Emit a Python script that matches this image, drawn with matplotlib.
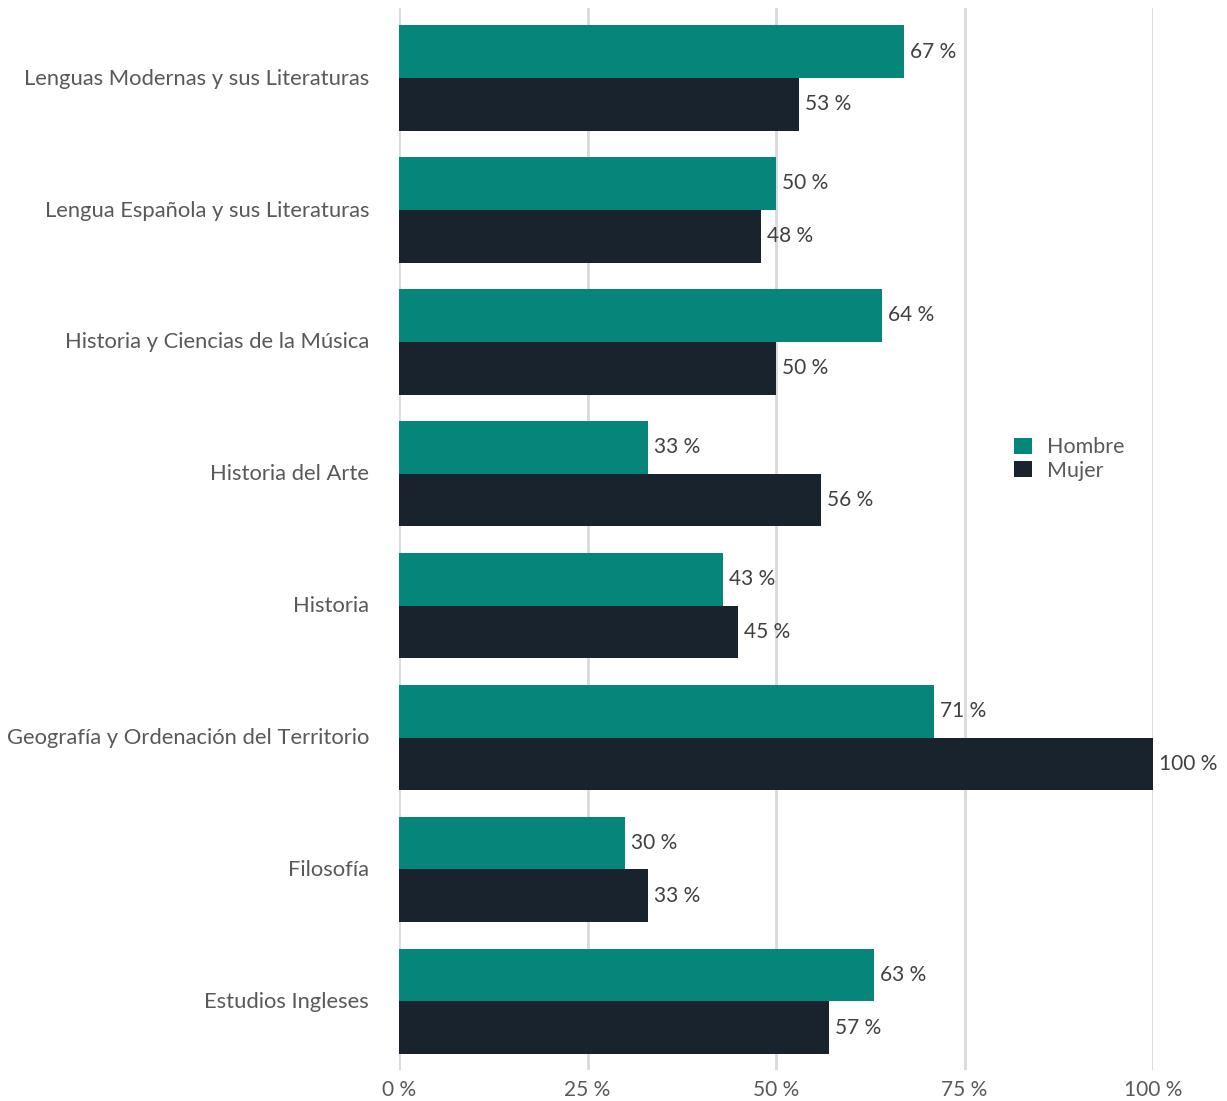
import matplotlib.pyplot as plt
import numpy as np

plt.rcParams['font.family'] = ['Lato', 'DejaVu Sans']

# Datos
categorias = [
    'Lenguas Modernas y sus Literaturas',
    'Lengua Española y sus Literaturas',
    'Historia y Ciencias de la Música',
    'Historia del Arte',
    'Historia',
    'Geografía y Ordenación del Territorio',
    'Filosofía',
    'Estudios Ingleses',
]
hombre = [67, 50, 64, 33, 43, 71, 30, 63]
mujer = [53, 48, 50, 56, 45, 100, 33, 57]
ticks = [0, 25, 50, 75, 100]

color_h = '#06857A'
color_m = '#18232E'

fig = plt.figure(figsize=(12.27, 11.01), dpi=100)
ax = fig.add_axes([399 / 1227, 1 - 1070 / 1101, (1153 - 399) / 1227, 1062 / 1101])

y = np.arange(len(categorias))
h = 0.40
bh = ax.barh(y - h / 2, hombre, height=h, color=color_h, label='Hombre', zorder=3)
bm = ax.barh(y + h / 2, mujer, height=h, color=color_m, label='Mujer', zorder=3)

for bars, vals in [(bh, hombre), (bm, mujer)]:
    for b, v in zip(bars, vals):
        ax.text(v + 0.8, b.get_y() + b.get_height() / 2, f'{v} %', va='center', ha='left',
                fontsize=15, color='#404040', clip_on=False)

ax.set_xlim(0, 100)
ax.set_ylim(7.52, -0.53)
ax.set_yticks(y - 0.01)
ax.set_yticklabels(categorias, fontsize=15.8, color='#595959')
ax.set_xticks(ticks)
ax.set_xticklabels([f'{t} %' for t in ticks], fontsize=15, color='#595959')
ax.tick_params(axis='both', length=0)
ax.tick_params(axis='y', pad=21.5)
ax.tick_params(axis='x', pad=7)
ax.grid(axis='x', color='#d9d9d9', linewidth=2, zorder=0)
for s in ax.spines.values():
    s.set_visible(False)

leg = fig.legend(handles=[bh, bm], loc='center left', bbox_to_anchor=(995 / 1227, 1 - 459 / 1101),
                 frameon=False, fontsize=15.5, handlelength=0.8, handleheight=0.8,
                 handletextpad=0.7, labelspacing=0.15)
for t in leg.get_texts():
    t.set_color('#595959')

fig.savefig('out.png', dpi=100)
